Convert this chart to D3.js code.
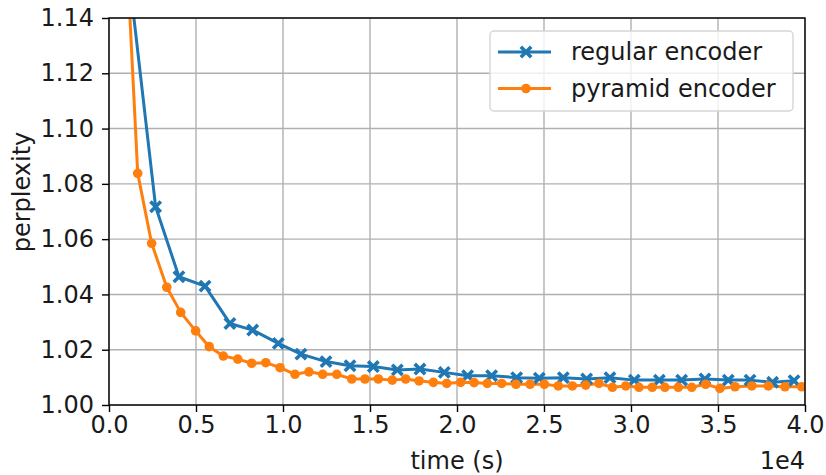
<!DOCTYPE html>
<html>
<head>
<meta charset="utf-8">
<script src="https://d3js.org/d3.v7.min.js"></script>
<style>
  body { margin: 0; background: #fff; }
  svg { font-family: "DejaVu Sans", sans-serif; }
</style>
</head>
<body>
<div id="vis"></div>
<script>
// declare constants
const FRAME_WIDTH = 826
const FRAME_HEIGHT = 475
const MARGINS = {left: 109, right: 21, top: 18, bottom: 70}

const VIS_WIDTH = FRAME_WIDTH - MARGINS.left - MARGINS.right;
const VIS_HEIGHT = FRAME_HEIGHT - MARGINS.top - MARGINS.bottom;

const FONT = "24px";

// data (time in seconds)
const regularTime = [1340, 2680, 4020, 5520, 6950, 8260, 9730, 11030, 12470, 13850,
  15190, 16570, 17870, 19270, 20610, 21990, 23430, 24730, 26110, 27450,
  28790, 30190, 31630, 32910, 34250, 35590, 36840, 38140, 39370];
const regularPerplexity = [1.145, 1.0717, 1.0464, 1.0430, 1.0295, 1.0271, 1.0223, 1.0184, 1.0157, 1.0142,
  1.0139, 1.0127, 1.0130, 1.0118, 1.0106, 1.0106, 1.0099, 1.0097, 1.0099, 1.0094,
  1.0099, 1.0090, 1.0090, 1.0090, 1.0094, 1.0090, 1.0090, 1.0082, 1.0088];

const pyramidTime = [840, 1650, 2450, 3320, 4120, 4980, 5760, 6570, 7400, 8200, 9010,
  9830, 10690, 11490, 12280, 13090, 13950, 14710, 15480, 16280, 17050,
  17820, 18640, 19410, 20210, 20980, 21740, 22570, 23390, 24200, 25020,
  25820, 26630, 27400, 28160, 28930, 29700, 30460, 31220, 31950, 32720,
  33490, 34290, 35110, 35980, 36940, 37890, 38850, 39810];
const pyramidPerplexity = [1.186, 1.0838, 1.0585, 1.0426, 1.0335, 1.0268, 1.0211, 1.0177, 1.0166, 1.0151, 1.0153,
  1.0135, 1.0111, 1.0120, 1.0111, 1.0111, 1.0094, 1.0094, 1.0094, 1.0090, 1.0094,
  1.0087, 1.0082, 1.0078, 1.0082, 1.0081, 1.0078, 1.0078, 1.0075, 1.0075, 1.0075,
  1.0069, 1.0069, 1.0072, 1.0078, 1.0064, 1.0069, 1.0064, 1.0064, 1.0064, 1.0064,
  1.0064, 1.0075, 1.0060, 1.0066, 1.0069, 1.0069, 1.0066, 1.0066];

const xTicks = [0, 5000, 10000, 15000, 20000, 25000, 30000, 35000, 40000];
const yTicks = [1.00, 1.02, 1.04, 1.06, 1.08, 1.10, 1.12, 1.14];
const seriesNames = ["regular encoder", "pyramid encoder"];

const BLUE = "#1f77b4";
const ORANGE = "#ff7f0e";

const FRAME = d3.select('#vis')
                .append('svg')
                .attr('width', FRAME_WIDTH)
                .attr('height', FRAME_HEIGHT);

const x = d3.scaleLinear().domain([0, 40000]).range([0, VIS_WIDTH]);
const y = d3.scaleLinear().domain([1.00, 1.14]).range([VIS_HEIGHT, 0]);

const plot = FRAME.append("g")
    .attr("transform", "translate(" + MARGINS.left + "," + MARGINS.top + ")");

plot.append("clipPath").attr("id", "clip")
  .append("rect").attr("width", VIS_WIDTH).attr("height", VIS_HEIGHT);

// grid lines
plot.append("g").selectAll("line").data(xTicks).enter().append("line")
    .attr("x1", d => x(d)).attr("x2", d => x(d))
    .attr("y1", 0).attr("y2", VIS_HEIGHT)
    .attr("stroke", "#b0b0b0").attr("stroke-width", 1.4);
plot.append("g").selectAll("line").data(yTicks).enter().append("line")
    .attr("x1", 0).attr("x2", VIS_WIDTH)
    .attr("y1", d => y(d)).attr("y2", d => y(d))
    .attr("stroke", "#b0b0b0").attr("stroke-width", 1.4);

// x axis
const xAxis = plot.append("g")
    .attr("transform", "translate(0," + VIS_HEIGHT + ")")
    .call(d3.axisBottom(x).tickValues(xTicks).tickSize(7).tickPadding(4)
          .tickFormat(d => (d / 10000).toFixed(1)));

// y axis
const yAxis = plot.append("g")
    .call(d3.axisLeft(y).tickValues(yTicks).tickSize(7).tickPadding(8)
          .tickFormat(d3.format(".2f")));

[xAxis, yAxis].forEach(a => {
  a.select(".domain").remove();
  a.selectAll("line").attr("stroke", "#000").attr("stroke-width", 1.4);
  a.selectAll("text").attr("font-size", FONT).attr("fill", "#1a1a1a")
   .attr("font-family", "DejaVu Sans");
});

// series
const regular = regularTime.map((t, i) => ({t: t, p: regularPerplexity[i]}));
const pyramid = pyramidTime.map((t, i) => ({t: t, p: pyramidPerplexity[i]}));

const line = d3.line().x(d => x(d.t)).y(d => y(d.p));
const data = plot.append("g").attr("clip-path", "url(#clip)");

data.append("path").datum(regular)
    .attr("d", line).attr("fill", "none")
    .attr("stroke", BLUE).attr("stroke-width", 3).attr("stroke-linejoin", "round");

data.append("path").datum(pyramid)
    .attr("d", line).attr("fill", "none")
    .attr("stroke", ORANGE).attr("stroke-width", 3).attr("stroke-linejoin", "round");

const crossPath = s => "M" + (-s) + "," + (-s) + "L" + s + "," + s + "M" + (-s) + "," + s + "L" + s + "," + (-s);

data.selectAll(".xmark").data(regular).enter().append("path")
    .attr("class", "xmark")
    .attr("transform", d => "translate(" + x(d.t) + "," + y(d.p) + ")")
    .attr("d", crossPath(5.2))
    .attr("stroke", BLUE).attr("stroke-width", 3.6).attr("fill", "none");

data.selectAll(".dot").data(pyramid).enter().append("circle")
    .attr("class", "dot")
    .attr("cx", d => x(d.t)).attr("cy", d => y(d.p))
    .attr("r", 4.8).attr("fill", ORANGE);

// frame
plot.append("rect")
    .attr("width", VIS_WIDTH).attr("height", VIS_HEIGHT)
    .attr("fill", "none").attr("stroke", "#000").attr("stroke-width", 1.4);

// axis labels
FRAME.append("text")
    .attr("x", MARGINS.left + VIS_WIDTH / 2).attr("y", 469)
    .attr("text-anchor", "middle").attr("font-size", FONT).attr("fill", "#1a1a1a")
    .text("time (s)");

FRAME.append("text")
    .attr("x", MARGINS.left + VIS_WIDTH).attr("y", 469)
    .attr("text-anchor", "end").attr("font-size", FONT).attr("fill", "#1a1a1a")
    .text("1e4");

FRAME.append("text")
    .attr("transform", "translate(22,192) rotate(-90)")
    .attr("text-anchor", "middle").attr("dy", "0.35em")
    .attr("font-size", FONT).attr("fill", "#1a1a1a")
    .text("perplexity");

// legend
const legend = FRAME.append("g").attr("transform", "translate(490,31)");
legend.append("rect")
    .attr("width", 303).attr("height", 80).attr("rx", 4)
    .attr("fill", "#fff").attr("fill-opacity", 0.8)
    .attr("stroke", "#d6d6d6").attr("stroke-width", 1.4);

const rows = legend.selectAll(".row").data(seriesNames).enter().append("g")
    .attr("transform", (d, i) => "translate(0," + (21 + i * 36.5) + ")");

rows.append("line")
    .attr("x1", 8).attr("x2", 61)
    .attr("stroke", (d, i) => i === 0 ? BLUE : ORANGE).attr("stroke-width", 3);

rows.filter((d, i) => i === 0).append("path")
    .attr("transform", "translate(36,0)")
    .attr("d", crossPath(5.2))
    .attr("stroke", BLUE).attr("stroke-width", 3.6).attr("fill", "none");

rows.filter((d, i) => i === 1).append("circle")
    .attr("cx", 36).attr("r", 4.8).attr("fill", ORANGE);

rows.append("text")
    .attr("x", 81).attr("dy", "0.35em")
    .attr("font-size", FONT).attr("fill", "#1a1a1a")
    .text(d => d);
</script>
</body>
</html>
